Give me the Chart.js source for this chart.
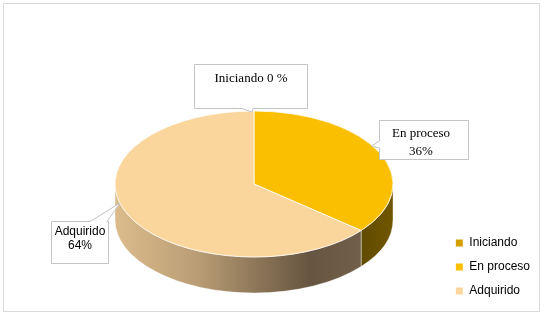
<!DOCTYPE html>
<html>
<head>
<meta charset="utf-8">
<script src="https://cdn.jsdelivr.net/npm/chart.js@4.4.0/dist/chart.umd.min.js"></script>
<style>
  html, body { margin: 0; padding: 0; background: #fff; }
  #wrap { width: 546px; height: 320px; }
</style>
</head>
<body>
<div id="wrap"><canvas id="chart" width="546" height="320"></canvas></div>
<script>
const labels = ['Iniciando', 'En proceso', 'Adquirido'];
const values = [0, 36, 64];
const sliceColors = ['#d4a000', '#f9bf00', '#fad69c'];
const calloutTexts = [['Iniciando 0 %'], ['En proceso', '36%'], ['Adquirido', '64%']];

// where the tilted pie sits on the page
const CX = 254, CY = 184, RX = 139, RY = 73, DEPTH = 36;

function sideFill(ctx, i) {
    if (i === 1) {
        let g = ctx.createLinearGradient(CX + RX * 0.75, 0, CX + RX, 0);
        g.addColorStop(0, '#5f4a00');
        g.addColorStop(1, '#705600');
        return g;
    }
    let g = ctx.createLinearGradient(CX - RX, 0, CX + RX, 0);
    g.addColorStop(0, '#dcbc8c');
    g.addColorStop(0.3, '#b89c74');
    g.addColorStop(0.7, '#665540');
    g.addColorStop(1, '#7a6650');
    return g;
}

function drawCallout(ctx, pts, lines, font, cx, y0, lh) {
    ctx.save();
    ctx.beginPath();
    ctx.moveTo(pts[0][0], pts[0][1]);
    for (let k = 1; k < pts.length; k++) ctx.lineTo(pts[k][0], pts[k][1]);
    ctx.closePath();
    ctx.fillStyle = '#fff';
    ctx.fill();
    ctx.strokeStyle = '#c4c4c4';
    ctx.lineWidth = 1;
    ctx.stroke();
    ctx.fillStyle = '#000';
    ctx.font = font;
    ctx.textAlign = 'center';
    ctx.textBaseline = 'middle';
    lines.forEach((t, k) => ctx.fillText(t, cx, y0 + k * lh));
    ctx.restore();
}

const pie3d = {
    id: 'pie3d',
    beforeDatasetsDraw(chart) {
        const ctx = chart.ctx;
        const arcs = chart.getDatasetMeta(0).data;
        const c = arcs[0].getProps(['x', 'y', 'outerRadius'], true);
        arcs.forEach((arc, i) => {
            const p = arc.getProps(['startAngle', 'endAngle'], true);
            let s = Math.max(p.startAngle, 0);
            let e = Math.min(p.endAngle, Math.PI);
            if (e - s <= 0.0001) return;
            ctx.beginPath();
            ctx.ellipse(CX, CY, RX, RY, 0, s, e);
            ctx.ellipse(CX, CY + DEPTH, RX, RY, 0, e, s, true);
            ctx.closePath();
            ctx.fillStyle = sideFill(ctx, i);
            ctx.fill();
            ctx.strokeStyle = 'rgba(255,255,255,0.4)';
            ctx.lineWidth = 1;
            ctx.stroke();
        });
        ctx.save();
        ctx.translate(CX, CY);
        ctx.scale(RX / c.outerRadius, RY / c.outerRadius);
        ctx.translate(-c.x, -c.y);
    },
    afterDatasetsDraw(chart) {
        chart.ctx.restore();
    },
    afterDraw(chart) {
        const ctx = chart.ctx;
        ctx.save();
        ctx.strokeStyle = '#d9d9d9';
        ctx.lineWidth = 1;
        ctx.strokeRect(3.5, 3.5, 536, 308);
        ctx.restore();
        drawCallout(ctx, [[194.5, 64.5], [307.5, 64.5], [307.5, 108.5], [253, 108.5], [252, 112], [242, 108.5], [194.5, 108.5]],
            calloutTexts[0], '13px "Liberation Serif", serif', 251, 79, 18);
        drawCallout(ctx, [[379.5, 120.5], [468.5, 120.5], [468.5, 159.5], [379.5, 159.5], [379.5, 148], [371, 146], [379.5, 141]],
            calloutTexts[1], '13px "Liberation Serif", serif', 421, 134, 18);
        drawCallout(ctx, [[51.5, 221.5], [90, 221.5], [120, 203], [107, 221.5], [108.5, 221.5], [108.5, 263.5], [51.5, 263.5]],
            calloutTexts[2], '12px "Liberation Sans", sans-serif', 80, 232, 14);
    }
};

new Chart(document.getElementById('chart'), {
    type: 'pie',
    data: {
        labels: labels,
        datasets: [{
            data: values,
            backgroundColor: sliceColors,
            borderColor: '#ffffff',
            borderWidth: 1,
        }]
    },
    options: {
        responsive: false,
        animation: false,
        layout: { padding: { top: 20, bottom: 11, left: 20, right: 6 } },
        plugins: {
            legend: {
                position: 'right',
                align: 'end',
                labels: {
                    boxWidth: 8,
                    boxHeight: 8,
                    padding: 12,
                    color: '#000',
                    font: { family: '"Liberation Sans", Arial, sans-serif', size: 12 },
                },
            },
            tooltip: { enabled: false },
        },
    },
    plugins: [pie3d],
});
</script>
</body>
</html>
